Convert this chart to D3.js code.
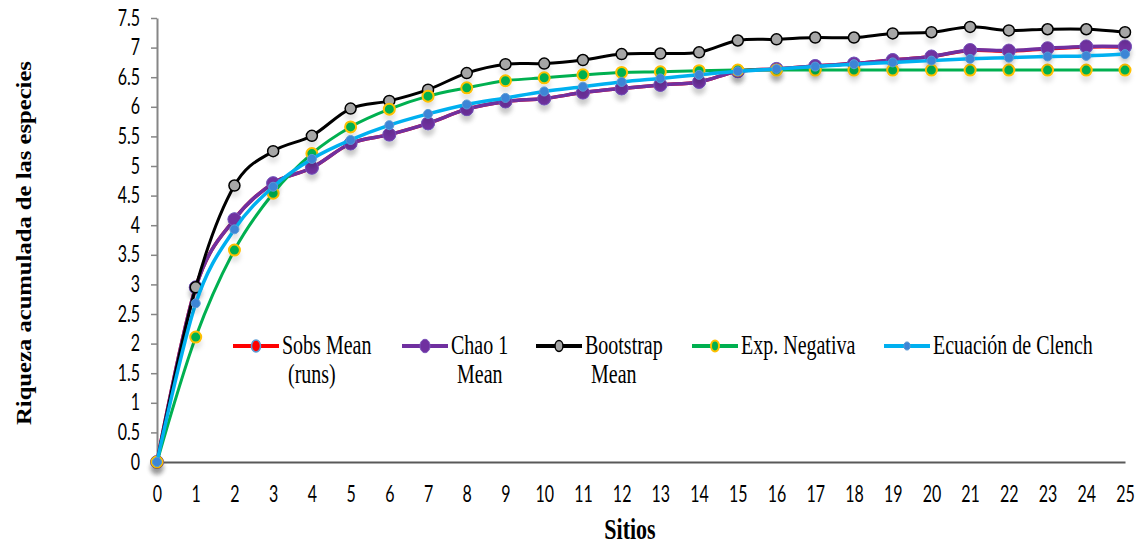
<!DOCTYPE html>
<html>
<head>
<meta charset="utf-8">
<script src="https://cdn.jsdelivr.net/npm/d3@7"></script>
<style>
  html, body { margin: 0; padding: 0; background: #fff; }
  svg { display: block; }
</style>
</head>
<body>
<svg id="chart" width="1145" height="548"></svg>
<script>
// ---------- data ----------
const sitios = d3.range(0, 26);
const sobsMean   = [0, 2.95, 4.10, 4.71, 4.97, 5.38, 5.53, 5.72, 5.96, 6.09, 6.14, 6.24, 6.31, 6.37, 6.42, 6.60, 6.64, 6.69, 6.73, 6.79, 6.85, 6.95, 6.94, 6.98, 7.01, 7.01];
const chao1Mean  = [0, 2.95, 4.10, 4.71, 4.97, 5.38, 5.53, 5.72, 5.96, 6.09, 6.14, 6.24, 6.31, 6.37, 6.42, 6.60, 6.64, 6.69, 6.73, 6.79, 6.85, 6.96, 6.95, 6.99, 7.02, 7.02];
const bootstrap  = [0, 2.95, 4.67, 5.25, 5.51, 5.97, 6.10, 6.29, 6.57, 6.72, 6.73, 6.79, 6.89, 6.90, 6.92, 7.12, 7.14, 7.17, 7.17, 7.24, 7.26, 7.35, 7.29, 7.31, 7.31, 7.26];
const expNeg     = [0, 2.11, 3.58, 4.54, 5.21, 5.66, 5.96, 6.18, 6.32, 6.44, 6.49, 6.54, 6.58, 6.59, 6.61, 6.62, 6.62, 6.62, 6.62, 6.62, 6.62, 6.62, 6.62, 6.62, 6.62, 6.62];
const clench     = [0, 2.68, 3.93, 4.65, 5.12, 5.44, 5.69, 5.88, 6.04, 6.15, 6.26, 6.34, 6.42, 6.48, 6.54, 6.60, 6.64, 6.68, 6.72, 6.75, 6.78, 6.81, 6.83, 6.85, 6.86, 6.89];
const yTicks = [0, 0.5, 1, 1.5, 2, 2.5, 3, 3.5, 4, 4.5, 5, 5.5, 6, 6.5, 7, 7.5];
const legendLines1 = ["Sobs Mean", "Chao 1", "Bootstrap", "Exp. Negativa", "Ecuación de Clench"];
const legendLines2 = ["(runs)", "Mean", "Mean", "", ""];

// ---------- styles ----------
const series = [
  {values: sobsMean,  line: "#ff0000", lw: 3.5, mFill: "#ff0000", mStroke: "#5b9bd5", r: 6, mw: 1.5},
  {values: chao1Mean, line: "#7030a0", lw: 3.5, mFill: "#7030a0", mStroke: "#7a52b8", r: 6.5, mw: 1},
  {values: bootstrap, line: "#000000", lw: 3,   mFill: "#a6a6a6", mStroke: "#000000", r: 5.5, mw: 1.5},
  {values: expNeg,    line: "#00b050", lw: 3,   mFill: "#00b050", mStroke: "#ffc000", r: 5.5, mw: 2},
  {values: clench,    line: "#00b0f0", lw: 3.5, mFill: "#3d85d6", mStroke: "#5b9bd5", r: 4.5, mw: 1}
];
const legendPos = [233, 402, 536, 692, 884];

const svg = d3.select("#chart");
const defs = svg.append("defs");
const f = defs.append("filter").attr("id", "shadow").attr("x", "-50%").attr("y", "-50%").attr("width", "200%").attr("height", "250%");
f.append("feDropShadow").attr("dx", 0).attr("dy", 6).attr("stdDeviation", 2)
  .attr("flood-color", "#000").attr("flood-opacity", 0.10);

const x = d3.scaleLinear().domain([0, 25]).range([157, 1125]);
const y = d3.scaleLinear().domain([0, 7.5]).range([462, 18]);

// ---------- axes ----------
const yAxis = svg.append("g").attr("transform", `translate(${x(0)},0)`)
  .call(d3.axisLeft(y).tickValues(yTicks).tickFormat(d3.format("")).tickSize(6).tickSizeOuter(0).tickPadding(11));
yAxis.select(".domain").attr("stroke", "#868686").attr("stroke-width", 2);
yAxis.selectAll(".tick line").attr("stroke", "#868686").attr("stroke-width", 1.5);
yAxis.selectAll(".tick text")
  .attr("font-family", "Lato, 'Open Sans', sans-serif").attr("font-size", 16).attr("fill", "#000")
  .attr("transform", "scale(1,1.4)");

const xAxis = svg.append("g").attr("transform", `translate(0,${y(0)})`)
  .call(d3.axisBottom(x).tickValues(sitios).tickFormat(d3.format("d")).tickSize(0).tickSizeOuter(0));
xAxis.select(".domain").attr("stroke", "#595959").attr("stroke-width", 2);
xAxis.selectAll(".tick text")
  .attr("font-family", "Lato, 'Open Sans', sans-serif").attr("font-size", 16).attr("fill", "#000")
  .attr("y", 0).attr("dy", 0)
  .attr("transform", "translate(0,40) scale(1,1.4)");

// ---------- lines ----------
const line = d3.line().x((d, i) => x(sitios[i])).y(d => y(d)).curve(d3.curveCardinal.tension(0));
series.forEach(s => {
  const g = svg.append("g");
  g.append("path").attr("d", line(s.values)).attr("fill", "none")
    .attr("stroke", s.line).attr("stroke-width", s.lw).attr("stroke-linejoin", "round");
  g.append("g").attr("filter", "url(#shadow)").selectAll("circle").data(s.values).join("circle")
    .attr("cx", (d, i) => x(sitios[i])).attr("cy", d => y(d)).attr("r", s.r)
    .attr("fill", s.mFill).attr("stroke", s.mStroke).attr("stroke-width", s.mw);
});

// ---------- legend ----------
const lg = svg.append("g");
series.forEach((s, i) => {
  const lx = legendPos[i], ly = 346;
  lg.append("line").attr("x1", lx).attr("x2", lx + 46).attr("y1", ly).attr("y2", ly)
    .attr("stroke", s.line).attr("stroke-width", 4);
  lg.append("ellipse").attr("cx", lx + 23).attr("cy", ly).attr("rx", s.r - 1.5).attr("ry", (s.r - 1.5) * 1.35)
    .attr("fill", s.mFill).attr("stroke", s.mStroke).attr("stroke-width", s.mw);
  lg.append("text").attr("transform", `translate(${lx + 49},354) scale(1,1.32)`)
    .attr("font-family", "'Liberation Serif', 'Times New Roman', serif").attr("font-size", 20)
    .text(legendLines1[i]);
  if (legendLines2[i]) {
    lg.append("text").attr("transform", `translate(${lx + 55},383) scale(1,1.32)`)
      .attr("font-family", "'Liberation Serif', 'Times New Roman', serif").attr("font-size", 20)
      .text(legendLines2[i]);
  }
});

// ---------- titles ----------
svg.append("text").attr("transform", "translate(630,539) scale(1,1.35)")
  .attr("text-anchor", "middle").attr("font-family", "'Liberation Serif', 'Times New Roman', serif")
  .attr("font-size", 22).attr("font-weight", "bold").text("Sitios");
svg.append("text").attr("transform", "translate(31,243) rotate(-90) scale(1.12,1)")
  .attr("text-anchor", "middle").attr("font-family", "'Liberation Serif', 'Times New Roman', serif")
  .attr("font-size", 22).attr("font-weight", "bold").text("Riqueza acumulada de las especies");
</script>
</body>
</html>
